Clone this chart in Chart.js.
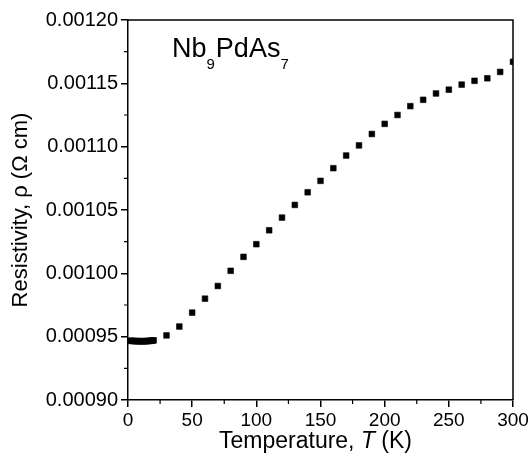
<!DOCTYPE html>
<html>
<head>
<meta charset="utf-8">
<script src="https://cdn.jsdelivr.net/npm/chart.js@4/dist/chart.umd.min.js"></script>
<style>
html,body{margin:0;padding:0;background:#fff;}
#wrap{width:532px;height:453px;}
</style>
</head>
<body>
<div id="wrap"><canvas id="c" width="532" height="453"></canvas></div>
<script>
// ---- data ----
const temperatures = [2,3,4,5,6,7,8,9,10,11,12,13,14,15,16,17,18,19,20,
  30,40,50,60,70,80,90,100,110,120,130,140,150,160,170,180,190,200,210,220,230,240,250,260,270,280,290,300];
const resistivity = [0.0009468,0.0009467,0.0009466,0.0009465,0.0009465,0.0009465,0.0009464,0.0009464,0.0009464,0.0009464,
  0.0009464,0.0009464,0.0009465,0.0009465,0.0009466,0.0009467,0.0009468,0.0009469,0.0009471,
  0.000951,0.000958,0.000969,0.000980,0.000990,0.001002,0.001013,0.001023,0.001034,0.001044,0.001054,
  0.001064,0.001073,0.001083,0.001093,0.001101,0.001110,0.001118,0.001125,0.001132,0.001137,0.001142,
  0.001145,0.001149,0.001152,0.001154,0.001159,0.001167];
const xMinorTicks = [25,75,125,175,225,275];
const yMinorTicks = [0.000925,0.000975,0.001025,0.001075,0.001125,0.001175];
const xTitleParts = [["Temperature, ", false], ["T", true], [" (K)", false]];
const yTitle = "Resistivity, \u03C1 (\u03A9 cm)";
const labelParts = [["Nb", false], ["9", true], ["PdAs", false], ["7", true]];

const FONT = "'Liberation Sans', Arial, Helvetica, sans-serif";
const points = temperatures.map((t, i) => ({x: t, y: resistivity[i]}));

const extras = {
  id: 'extras',
  afterDraw(chart) {
    const ctx = chart.ctx, ca = chart.chartArea;
    const xs = chart.scales.x, ys = chart.scales.y;
    ctx.save();
    ctx.strokeStyle = '#000';
    ctx.lineWidth = 1.5;
    // frame top & right
    ctx.beginPath();
    ctx.moveTo(ca.left, ca.top); ctx.lineTo(ca.right, ca.top); ctx.lineTo(ca.right, ca.bottom);
    ctx.stroke();
    // minor ticks
    ctx.lineWidth = 1.2;
    ctx.beginPath();
    xMinorTicks.forEach(v => { const px = xs.getPixelForValue(v); ctx.moveTo(px, ca.bottom); ctx.lineTo(px, ca.bottom + 4); });
    yMinorTicks.forEach(v => { const py = ys.getPixelForValue(v); ctx.moveTo(ca.left, py); ctx.lineTo(ca.left - 4, py); });
    ctx.stroke();
    // x title with italic T
    ctx.fillStyle = '#000';
    ctx.textBaseline = 'alphabetic';
    ctx.textAlign = 'left';
    const fs = 23;
    let w = 0;
    xTitleParts.forEach(([t, it]) => { ctx.font = (it ? 'italic ' : '') + fs + 'px ' + FONT; w += ctx.measureText(t).width; });
    let x = (ca.left + ca.right) / 2 - 5 - w / 2;
    xTitleParts.forEach(([t, it]) => { ctx.font = (it ? 'italic ' : '') + fs + 'px ' + FONT; ctx.fillText(t, x, 448); x += ctx.measureText(t).width; });
    // compound label
    x = 172;
    labelParts.forEach(([t, sub]) => {
      ctx.font = (sub ? 15 : 27) + 'px ' + FONT;
      ctx.fillText(t, x, sub ? 69 : 57);
      x += ctx.measureText(t).width + (sub ? 1 : 0);
    });
    ctx.restore();
  }
};

new Chart(document.getElementById('c'), {
  type: 'scatter',
  data: { datasets: [{
    data: points,
    showLine: false,
    pointStyle: 'rect',
    pointRadius: 4,
    pointHoverRadius: 4,
    pointBorderWidth: 0.6,
    backgroundColor: '#000',
    borderColor: '#000'
  }]},
  options: {
    responsive: false,
    animation: false,
    events: [],
    layout: { padding: { top: 20, right: 19, left: 0, bottom: 0 } },
    plugins: { legend: { display: false }, tooltip: { enabled: false } },
    scales: {
      x: {
        type: 'linear', min: 0, max: 300,
        ticks: { stepSize: 50, color: '#000', padding: 2, maxRotation: 0, font: { family: FONT, size: 19 } },
        grid: { drawOnChartArea: false, tickLength: 7, color: '#000', lineWidth: 1.5 },
        border: { color: '#000', width: 1.5 },
        afterFit(s) { s.height = 53; }
      },
      y: {
        type: 'linear', min: 0.0009, max: 0.0012,
        ticks: { stepSize: 0.00005, color: '#000', padding: 3, font: { family: FONT, size: 20 },
          callback: v => Number(v).toFixed(5) },
        grid: { drawOnChartArea: false, tickLength: 7, color: '#000', lineWidth: 1.5 },
        border: { color: '#000', width: 1.5 },
        title: { display: true, text: yTitle, color: '#000', padding: { top: 8, bottom: 0 }, font: { family: FONT, size: 22 } },
        afterFit(s) { s.width = 128; }
      }
    }
  },
  plugins: [extras]
});
</script>
</body>
</html>
